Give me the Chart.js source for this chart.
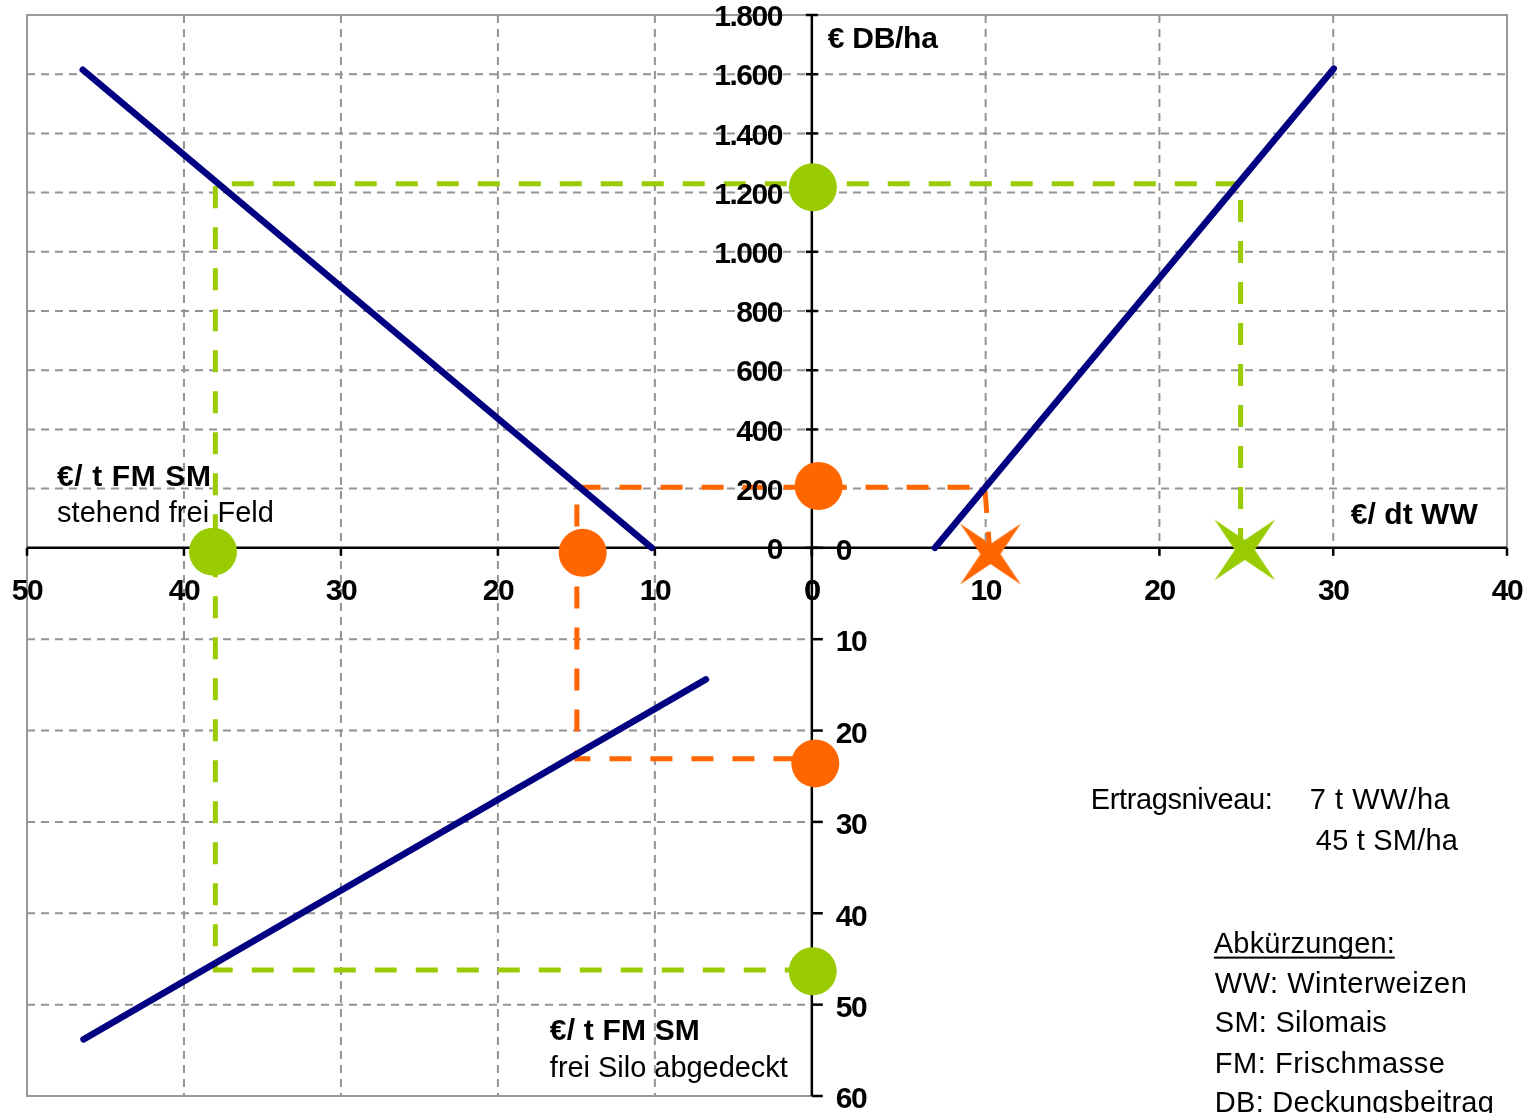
<!DOCTYPE html>
<html>
<head>
<meta charset="utf-8">
<script src="https://cdn.jsdelivr.net/npm/chart.js@4/dist/chart.umd.min.js"></script>
<style>
html,body{margin:0;padding:0;background:#fff}
canvas{display:block}
</style>
</head>
<body>
<canvas id="chart" width="1529" height="1113"></canvas>
<script>
// tick labels of the four half axes
const leftTicks=[50,40,30,20,10,0];                 // €/t FM SM stehend frei Feld
const rightTicks=[0,10,20,30,40];                   // €/dt WW
const topTicks=[0,200,400,600,800,1000,1200,1400,1600,1800]; // € DB/ha
const bottomTicks=[0,10,20,30,40,50,60];            // €/t FM SM frei Silo

// DB lines
const smFieldPrice=[10.2,46.45], smFieldDB=[0,1615];   // Silomais
const wwPrice=[7.08,30.03], wwDB=[0,1619];             // Winterweizen
const fieldPrice=[6.75,46.4], siloPrice=[14.4,53.8];   // Feld -> Silo

// reading paths, points as [quadrant, x, y]
const greenPath=[['TR',24.67,-7],['TR',24.67,1230],['TL',38.0,1230],['BL',38.0,46.2],['BL',0,46.2]];
const orangePath=[['TR',10.25,-20],['TR',9.95,205],['TL',14.97,205],['BL',14.97,23.1],['BL',0,23.1]];
const greenDots=[['TR',0.06,1218],['TL',38.15,-13],['BR',0.05,46.35]];
const orangeDots=[['TR',0.39,209],['TL',14.6,-17],['BR',0.2,23.6]];
const greenStar=[['TR',24.91,-7]];
const orangeStar=[['TR',10.28,-21]];

// share of the plot each half axis takes
const LEFT_SHARE=0.5303,RIGHT_SHARE=0.4697,TOP_SHARE=0.4929,BOTTOM_SHARE=0.5071;
const LEFT_MAX=50,RIGHT_MAX=40,TOP_MAX=1800,BOTTOM_MAX=60;

const NAVY='#000080',GREEN='#99cc00',ORANGE='#ff6600';
const FONT='"Liberation Sans", Arial, sans-serif';

function pt(q,a,b){
 return {
  x:q[1]==='L'? -a*LEFT_SHARE/LEFT_MAX : a*RIGHT_SHARE/RIGHT_MAX,
  y:q[0]==='T'? b*TOP_SHARE/TOP_MAX : -b*BOTTOM_SHARE/BOTTOM_MAX
 };
}
const toPts=list=>list.map(p=>pt(p[0],p[1],p[2]));

function fmt(v){
 return v>=1000? Math.floor(v/1000)+'.'+String(v%1000).padStart(3,'0') : String(v);
}

function starImage(color){
 const c=document.createElement('canvas');
 const R=43,r=10,s=2*R+2;
 c.width=c.height=s;
 const g=c.getContext('2d');
 g.translate(s/2,s/2);
 g.beginPath();
 for(let i=0;i<8;i++){
  const a=Math.PI/4+i*Math.PI/4;
  const rr=i%2===0?R:r;
  g.lineTo(rr*Math.cos(a),rr*Math.sin(a));
 }
 g.closePath();
 g.fillStyle=color;
 g.fill();
 return c;
}

// texts: [text, quadrant, x, y(cap centre), bold, size, width]
const notes=[
 ['€ DB/ha','TR',0.92,1724,true,30,110],
 ['€/ dt WW','TR',31.01,117,true,30,127],
 ['€/ t FM SM','TL',48.09,244,true,30,154],
 ['stehend frei Feld','TL',48.09,124,false,29,217],
 ['€/ t FM SM','BL',16.69,52.7,true,30,150],
 ['frei Silo abgedeckt','BL',16.69,56.75,false,29,238],
 ['Ertragsniveau:','BR',16.05,27.41,false,29,182],
 ['7 t WW/ha','BR',28.65,27.41,false,29,140],
 ['45 t SM/ha','BR',29.0,31.9,false,29,142],
 ['Abkürzungen:','BR',23.13,43.17,false,29,181],
 ['WW: Winterweizen','BR',23.19,47.54,false,29,252],
 ['SM: Silomais','BR',23.19,51.81,false,29,172],
 ['FM: Frischmasse','BR',23.19,56.3,false,29,230],
 ['DB: Deckungsbeitrag','BR',23.19,60.66,false,29,279]
];

function fitText(ctx,str,x,y,w){
 ctx.letterSpacing='0px';
 const m=ctx.measureText(str).width;
 const n=[...str].length;
 ctx.letterSpacing=((w-m)/(n-1))+'px';
 ctx.fillText(str,x,y);
 ctx.letterSpacing='0px';
}

function seg(ctx,a,b){
 ctx.beginPath();ctx.moveTo(a[0],a[1]);ctx.lineTo(b[0],b[1]);ctx.stroke();
}

const quadrants={
 id:'quadrants',
 beforeDatasetsDraw(chart){
  const {ctx,scales:{x,y}}=chart;
  const P=(q,a,b)=>{const p=pt(q,a,b);return [x.getPixelForValue(p.x),y.getPixelForValue(p.y)];};
  ctx.save();
  // grid
  ctx.strokeStyle='#939393';ctx.lineWidth=2;ctx.setLineDash([8,6]);
  topTicks.slice(1,-1).forEach(v=>seg(ctx,P('TL',LEFT_MAX,v),P('TR',RIGHT_MAX,v)));
  bottomTicks.slice(1,-1).forEach(v=>seg(ctx,P('BL',LEFT_MAX,v),P('BL',0,v)));
  leftTicks.slice(1,-1).forEach(v=>seg(ctx,P('TL',v,TOP_MAX),P('BL',v,BOTTOM_MAX)));
  rightTicks.slice(1,-1).forEach(v=>seg(ctx,P('TR',v,TOP_MAX),P('TR',v,0)));
  // frame
  ctx.setLineDash([]);ctx.strokeStyle='#999';ctx.lineWidth=2;
  const f=[P('BL',0,BOTTOM_MAX),P('BL',LEFT_MAX,BOTTOM_MAX),P('TL',LEFT_MAX,TOP_MAX),P('TR',RIGHT_MAX,TOP_MAX),P('TR',RIGHT_MAX,0)];
  ctx.beginPath();f.forEach((p,i)=>i?ctx.lineTo(p[0],p[1]):ctx.moveTo(p[0],p[1]));ctx.stroke();
  // axes
  ctx.strokeStyle='#000';ctx.lineWidth=2.5;
  seg(ctx,P('TL',LEFT_MAX,0),P('TR',RIGHT_MAX,0));
  seg(ctx,P('TR',0,TOP_MAX),P('BR',0,BOTTOM_MAX));
  leftTicks.forEach(v=>{const p=P('TL',v,0);seg(ctx,p,[p[0],p[1]+8]);});
  rightTicks.forEach(v=>{const p=P('TR',v,0);seg(ctx,p,[p[0],p[1]+8]);});
  topTicks.forEach(v=>{const p=P('TR',0,v);seg(ctx,[p[0]-6,p[1]],[p[0]+6,p[1]]);});
  bottomTicks.forEach(v=>{const p=P('BR',0,v);seg(ctx,p,[p[0]+11,p[1]]);});
  ctx.restore();
 },
 afterDatasetsDraw(chart){
  const {ctx,scales:{x,y}}=chart;
  const P=(q,a,b)=>{const p=pt(q,a,b);return [x.getPixelForValue(p.x),y.getPixelForValue(p.y)];};
  ctx.save();
  ctx.fillStyle='#000';
  ctx.font='bold 30px '+FONT;
  ctx.letterSpacing='-1.5px';
  ctx.textBaseline='middle';
  ctx.textAlign='center';
  leftTicks.forEach(v=>{const p=P('TL',v,0);ctx.fillText(fmt(v),p[0],p[1]+44);});
  rightTicks.forEach(v=>{const p=P('TR',v,0);ctx.fillText(fmt(v),p[0],p[1]+44);});
  ctx.textAlign='right';
  topTicks.forEach(v=>{const p=P('TR',0,v);ctx.fillText(fmt(v),p[0]-30,p[1]+3);});
  ctx.textAlign='left';
  bottomTicks.forEach(v=>{const p=P('BR',0,v);ctx.fillText(fmt(v),p[0]+24,p[1]+4);});
  ctx.letterSpacing='0px';
  // notes
  ctx.textBaseline='alphabetic';
  notes.forEach(n=>{
   const [txt,q,a,b,bold,size,w]=n;
   const p=P(q,a,b);
   ctx.font=(bold?'bold ':'')+size+'px '+FONT;
   const base=p[1]+0.358*size;
   fitText(ctx,txt,p[0],base,w);
   if(txt==='Abkürzungen:'){
    ctx.fillRect(p[0],base+4,w,2);
   }
  });
  ctx.restore();
 }
};

const lineDs=(data,color,order,dash)=>({
 data,showLine:true,borderColor:color,borderWidth:dash?5:6.5,borderDash:dash||[],
 borderCapStyle:dash?'butt':'round',pointRadius:0,tension:0,order,clip:false
});
const dotDs=(data,color,style,radius)=>({
 data,showLine:false,pointStyle:style,pointRadius:radius,
 pointBackgroundColor:color,pointBorderColor:color,pointBorderWidth:0,order:0,clip:false
});

new Chart(document.getElementById('chart'),{
 type:'scatter',
 data:{datasets:[
  lineDs(toPts(greenPath),GREEN,2,[22,19]),
  lineDs(toPts(orangePath),ORANGE,2,[22,19]),
  lineDs(smFieldPrice.map((v,i)=>pt('TL',v,smFieldDB[i])),NAVY,1),
  lineDs(wwPrice.map((v,i)=>pt('TR',v,wwDB[i])),NAVY,1),
  lineDs(fieldPrice.map((v,i)=>pt('BL',v,siloPrice[i])),NAVY,1),
  dotDs(toPts(greenDots),GREEN,'circle',24),
  dotDs(toPts(orangeDots),ORANGE,'circle',24),
  dotDs(toPts(greenStar),GREEN,starImage(GREEN),20),
  dotDs(toPts(orangeStar),ORANGE,starImage(ORANGE),20)
 ]},
 options:{
  responsive:false,
  animation:false,
  events:[],
  layout:{autoPadding:false,padding:{left:27,top:15,right:22,bottom:17}},
  plugins:{legend:{display:false},tooltip:{enabled:false}},
  scales:{
   x:{type:'linear',display:false,min:-LEFT_SHARE,max:RIGHT_SHARE},
   y:{type:'linear',display:false,min:-BOTTOM_SHARE,max:TOP_SHARE}
  }
 },
 plugins:[quadrants]
});
</script>
</body>
</html>
